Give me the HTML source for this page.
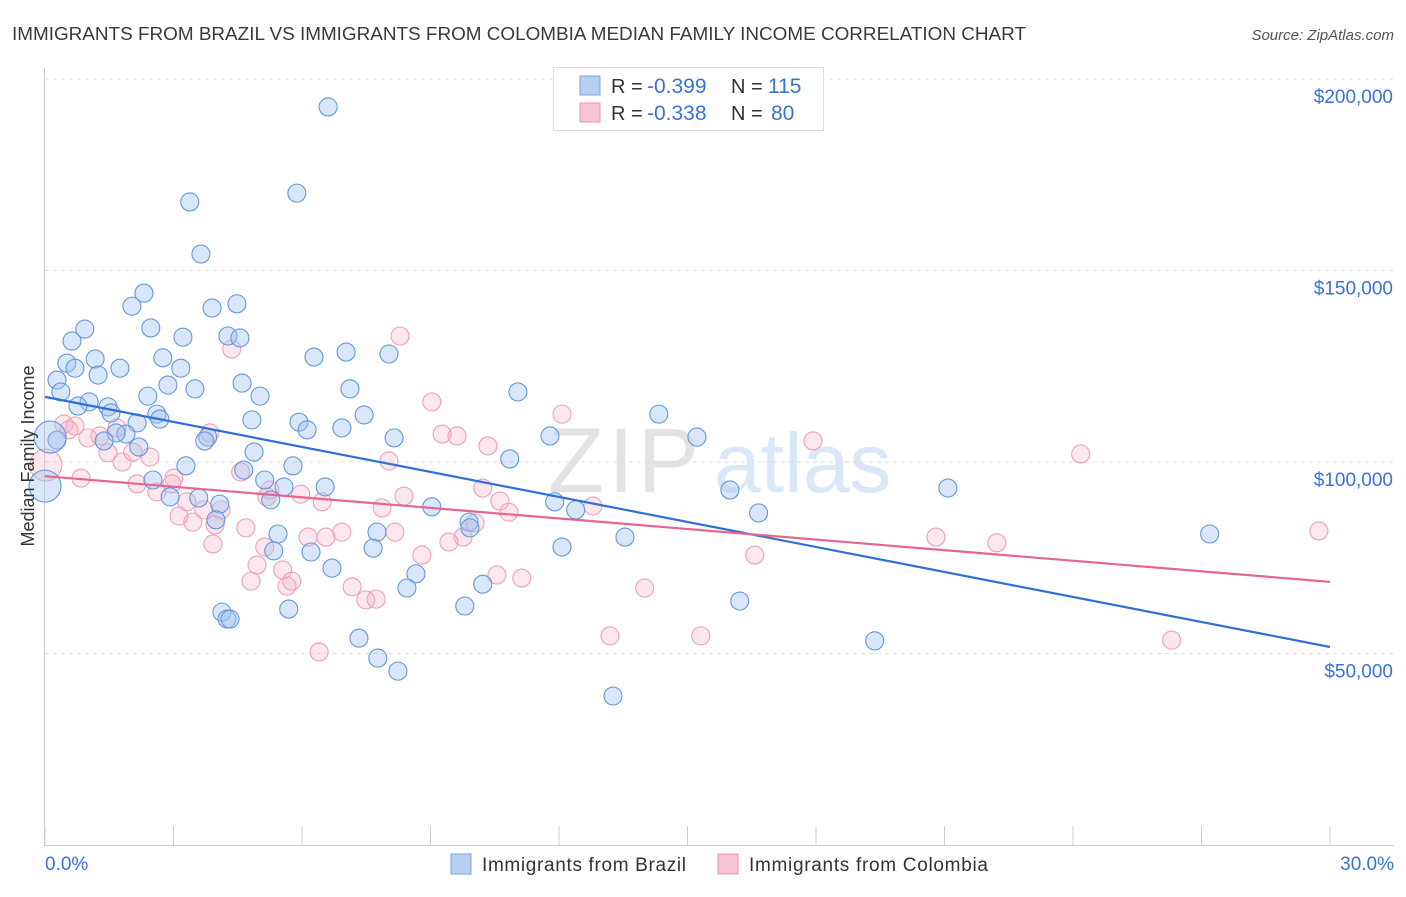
<!DOCTYPE html>
<html><head><meta charset="utf-8"><style>
body{margin:0;background:#fff;font-family:"Liberation Sans",sans-serif;}
svg text{font-family:"Liberation Sans",sans-serif;}
</style></head><body>
<svg id="chart" width="1406" height="892" xmlns="http://www.w3.org/2000/svg">
<text x="12" y="40" font-size="18" fill="#3a3a3a" textLength="1014" lengthAdjust="spacingAndGlyphs">IMMIGRANTS FROM BRAZIL VS IMMIGRANTS FROM COLOMBIA MEDIAN FAMILY INCOME CORRELATION CHART</text>
<text x="1394" y="40" font-size="15" fill="#555" text-anchor="end" font-style="italic">Source: ZipAtlas.com</text>
<g>
<text x="548" y="492" font-size="92" fill="#e3e3e3" font-family="Liberation Serif" letter-spacing="4">ZIP</text>
<text x="714" y="492" font-size="84" fill="#dbe7f7">atlas</text>
</g>
<g id="grid"></g>
<g id="axes"></g>
<g id="pts"></g>
<g id="trends"></g>
<text transform="translate(34,456) rotate(-90)" font-size="18" fill="#333" text-anchor="middle">Median Family Income</text>
<g>
<rect x="553.5" y="67.5" width="270" height="63" fill="#fff" stroke="#ddd"/>
<rect x="580" y="76" width="20" height="19" fill="#b7d0f2" stroke="#7ba5e6"/>
<rect x="580" y="103" width="20" height="19" fill="#f8c3d2" stroke="#e995ae"/>
<text x="611" y="93" font-size="20" fill="#333">R =<tspan x="647" fill="#3a72d6" font-size="21">-0.399</tspan><tspan x="731">N =</tspan><tspan x="768" fill="#3a72d6" font-size="21">115</tspan></text>
<text x="611" y="120" font-size="20" fill="#333">R =<tspan x="647" fill="#3a72d6" font-size="21">-0.338</tspan><tspan x="731">N =</tspan><tspan x="771" fill="#3a72d6" font-size="21">80</tspan></text>
</g>
<g>
<rect x="451" y="854" width="20" height="20" fill="#b7d0f2" stroke="#7ba5e6"/>
<text x="482" y="871" font-size="19" fill="#333" textLength="204">Immigrants from Brazil</text>
<rect x="718" y="854" width="20" height="20" fill="#f8c3d2" stroke="#e995ae"/>
<text x="749" y="871" font-size="19" fill="#333" textLength="239">Immigrants from Colombia</text>
</g>
</svg>
<script>
const yTicks=[50,100,150,200];
const yTickLabels=["$50,000","$100,000","$150,000","$200,000"];
const xTickLabels=["0.0%","30.0%"];
const brazilX=[6.61,5.88,3.38,3.64,2.31,2.03,4.48,3.90,2.47,0.93,0.63,3.22,4.27,4.55,7.03,6.28,8.03,2.75,1.17,0.51,0.70,1.75,3.17,1.24,0.28,2.87,3.50,4.60,5.02,7.12,11.04,0.37,2.40,1.03,1.47,0.77,2.61,2.68,1.54,4.83,7.45,14.33,5.93,2.15,6.93,6.12,1.89,1.66,3.80,11.79,8.15,15.22,3.73,1.38,2.19,4.88,10.85,0.28,4.64,3.29,5.79,5.13,5.27,6.54,5.58,2.52,2.92,3.59,4.08,11.90,12.39,9.03,15.99,21.08,9.90,9.92,3.99,5.44,7.75,16.66,13.54,6.21,7.66,5.34,12.07,6.70,27.19,8.66,10.22,8.45,4.13,4.25,4.32,5.69,9.80,16.22,7.33,7.77,8.24,19.37,13.26,0.0,0.12];
const brazilY=[192.7,170.2,167.9,154.3,144.1,140.7,141.3,140.2,135.0,134.7,131.6,132.6,132.9,132.4,128.7,127.4,128.2,127.2,126.9,125.8,124.5,124.5,124.5,122.7,121.4,120.1,119.1,120.6,117.2,119.1,118.3,118.3,117.2,115.7,114.4,114.6,112.5,111.2,112.8,111.0,112.3,112.5,110.4,110.2,108.9,108.4,107.3,107.6,106.5,106.8,106.3,106.5,105.5,105.5,103.9,102.6,100.8,105.7,97.9,99.0,99.0,95.3,90.1,93.5,93.5,95.3,90.9,90.6,89.0,89.6,87.5,88.3,92.7,93.2,84.3,82.8,84.9,81.2,81.7,86.7,80.4,76.5,77.5,76.8,77.8,72.3,81.2,70.8,68.1,67.1,60.8,59.0,59.0,61.6,62.4,63.7,54.0,48.8,45.4,53.3,38.9,93.7,106.5];
const colombiaX=[4.36,8.29,9.03,12.07,17.93,24.18,0.44,0.70,1.28,0.56,1.68,1.00,1.47,1.80,2.45,3.01,2.96,2.05,0.84,2.15,2.61,3.13,3.31,3.45,3.71,3.92,3.97,4.11,4.57,4.69,5.13,4.95,5.25,5.18,5.55,5.65,5.97,5.76,6.14,6.56,6.93,6.47,7.17,7.49,7.73,7.87,8.17,8.03,8.38,8.80,9.27,9.62,10.04,10.34,10.22,10.62,10.83,9.76,10.55,11.13,9.43,13.19,14.00,15.31,16.57,12.79,20.80,22.22,26.30,29.74,6.40,4.81,0.02,3.85];
const colombiaY=[129.5,132.9,115.7,112.5,105.5,102.1,109.9,109.4,106.8,108.4,108.9,106.3,102.4,100.0,101.3,95.8,94.3,102.6,95.8,94.3,92.2,85.9,89.6,84.3,87.5,78.6,83.6,87.5,97.4,82.8,77.8,73.1,92.7,90.9,71.8,67.6,91.6,68.9,80.4,80.4,81.7,89.6,67.4,64.0,64.2,88.0,81.7,100.3,91.1,75.7,107.3,106.8,84.1,104.2,93.2,89.8,86.9,80.4,70.5,69.7,79.1,54.6,67.1,54.6,75.7,88.5,80.4,78.9,53.5,82.0,50.4,68.9,99.2,107.6];
const brazilBig=[101,102];
const colombiaBig=[72];
const brazilTrend=[117.0,51.7];
const colombiaTrend=[96.3,68.7];

const NS="http://www.w3.org/2000/svg";
const x0=45,x1=1330,yb=845;
const sx=v=>x0+(v/30)*(x1-x0);
const sy=v=>yb-v*(191.5/50);
function mk(t,a,p){const e=document.createElementNS(NS,t);for(const k in a)e.setAttribute(k,a[k]);p.appendChild(e);return e;}
const grid=document.getElementById('grid'),axes=document.getElementById('axes'),pts=document.getElementById('pts'),tr=document.getElementById('trends');
yTicks.concat([205]).forEach((v,i)=>{
  const y=i<4?sy(v):79;
  const l=mk('line',{x1:45,x2:1394,y1:y,y2:y,stroke:'#ddd','stroke-dasharray':'4,4'},grid);
  
  
  if(i<4){const t=mk('text',{x:1393,y:sy(v)+24,'font-size':19,fill:'#3a72d6','text-anchor':'end'},axes);t.textContent=yTickLabels[i];
  
  }
});
const ax=mk('line',{x1:44.5,x2:44.5,y1:68,y2:845,stroke:'#ccc'},axes);


const bx=mk('line',{x1:44,x2:1394,y1:845.5,y2:845.5,stroke:'#ccc'},axes);


for(let i=0;i<=10;i++){const x=sx(i*3);const t=mk('line',{x1:x,x2:x,y1:826,y2:845,stroke:'#ccc'},axes);

}
[0,30].forEach((v,i)=>{const t=mk('text',{x:i?1394:45,y:870,'font-size':19,fill:'#3a72d6','text-anchor':i?'end':'start'},axes);t.textContent=xTickLabels[i];

});
function draw(X,Y,big,fill,stroke,name){
  X.forEach((v,i)=>{const r=big.includes(i)?16:9;
    const c=mk('circle',{cx:sx(v),cy:sy(Y[i]),r:r,fill:fill,stroke:stroke,'stroke-width':1.1},pts);
    
    });
}
draw(colombiaX,colombiaY,colombiaBig,'rgba(246,176,198,0.3)','#eda0b7','colombia-point');
draw(brazilX,brazilY,brazilBig,'rgba(158,194,240,0.4)','#6597dd','brazil-point');
const bl=mk('line',{x1:sx(0),y1:sy(brazilTrend[0]),x2:sx(30),y2:sy(brazilTrend[1]),stroke:'#2f6fd6','stroke-width':2.2},tr);


const pl=mk('line',{x1:sx(0),y1:sy(colombiaTrend[0]),x2:sx(30),y2:sy(colombiaTrend[1]),stroke:'#e5668f','stroke-width':2.2},tr);


</script>
</body></html>
